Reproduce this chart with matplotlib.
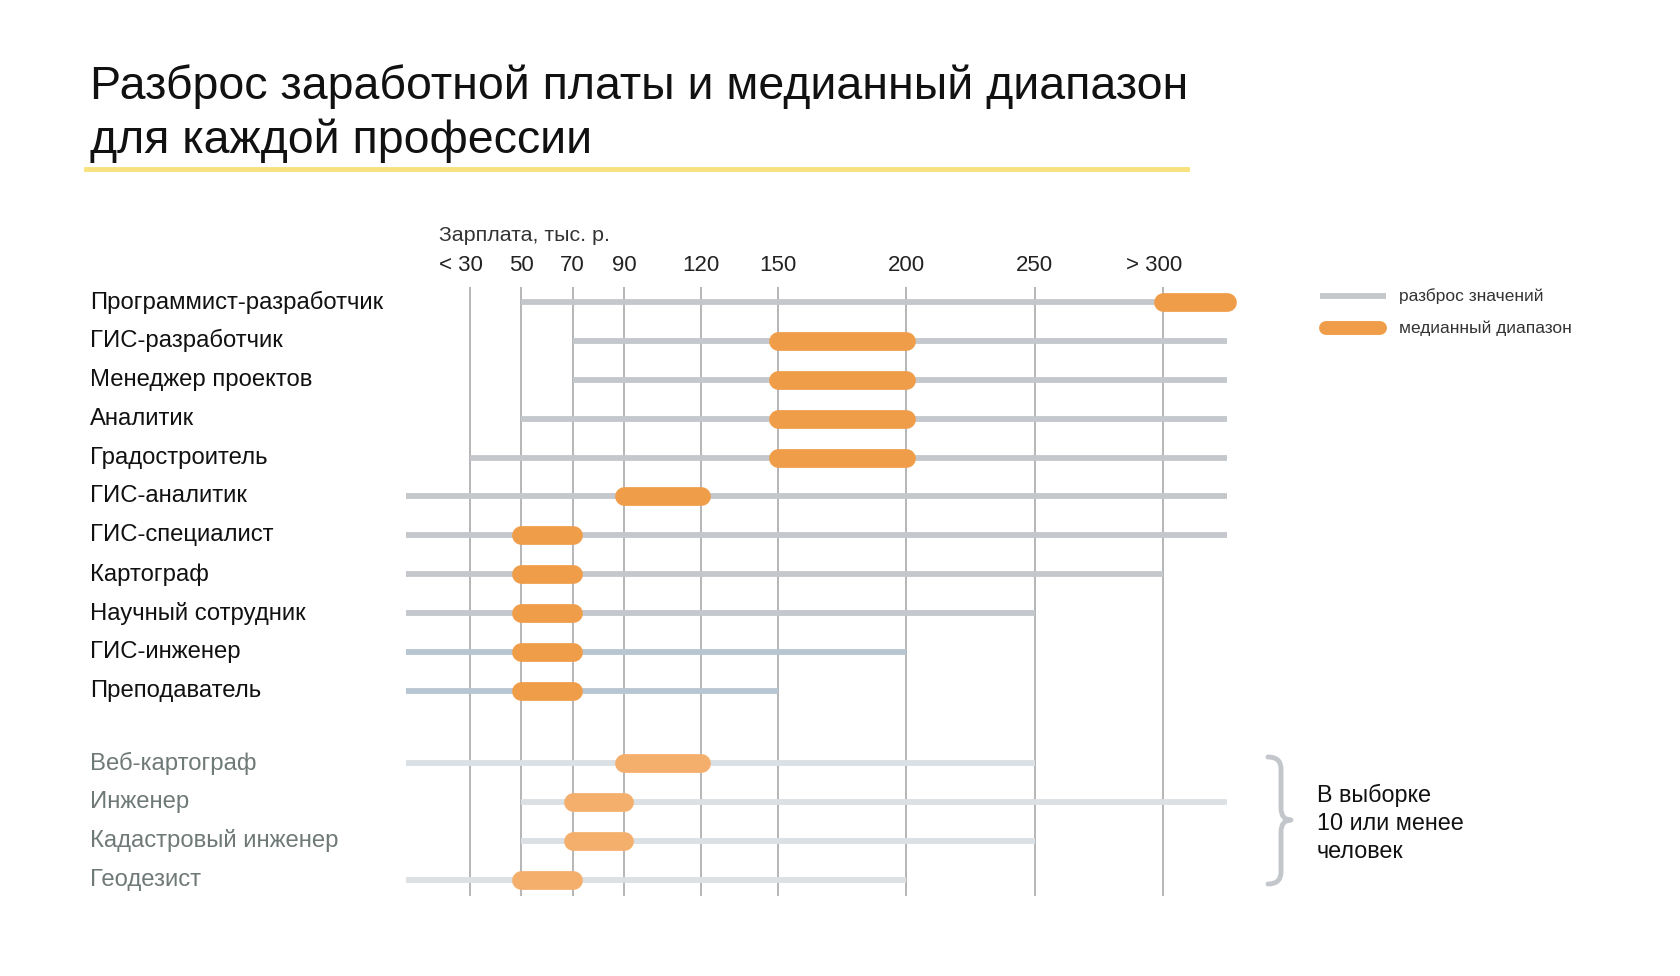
import matplotlib
matplotlib.use('Agg')
import matplotlib.pyplot as plt
from matplotlib.transforms import blended_transform_factory, offset_copy
from matplotlib.path import Path
import matplotlib.patches as mpatches

plt.rcParams['font.family'] = ['Liberation Sans', 'DejaVu Sans']

# --- data ---------------------------------------------------------------
jobs = ['Программист-разработчик', 'ГИС-разработчик', 'Менеджер проектов',
        'Аналитик', 'Градостроитель', 'ГИС-аналитик', 'ГИС-специалист',
        'Картограф', 'Научный сотрудник', 'ГИС-инженер', 'Преподаватель',
        'Веб-картограф', 'Инженер', 'Кадастровый инженер', 'Геодезист']
# 5 stands for "<30", 325 for ">300"
range_lo = [50, 70, 70, 50, 30, 5, 5, 5, 5, 5, 5, 5, 50, 50, 5]
range_hi = [325, 325, 325, 325, 325, 325, 325, 300, 250, 200, 150, 250, 325, 250, 200]
med_lo = [300, 150, 150, 150, 150, 90, 50, 50, 50, 50, 50, 90, 70, 70, 50]
med_hi = [325, 200, 200, 200, 200, 120, 70, 70, 70, 70, 70, 120, 90, 90, 70]
small_sample = [False] * 11 + [True] * 4

tick_vals = [30, 50, 70, 90, 120, 150, 200, 250, 300]
tick_labels = ['< 30', '50', '70', '90', '120', '150', '200', '250', '> 300']

# --- figure -------------------------------------------------------------
W, H = 1680, 976
fig = plt.figure(figsize=(W / 100, H / 100), dpi=100)
ax = fig.add_axes([0, 0, 1, 1])
ax.axis('off')

# pixel mapping: value 30 -> x=470, 300 -> x=1163 ; row 0 -> y=302, step 38.9
px_per = (1163 - 470) / 270
ax.set_xlim(30 - 470 / px_per, 30 + (W - 470) / px_per)
row_h = 38.9
ax.set_ylim((H - 302) / row_h, -302 / row_h)

ypos = [i + (0.85 if s else 0) for i, s in enumerate(small_sample)]

# vertical grid
ax.vlines(tick_vals, (287 - 302) / row_h, (896 - 302) / row_h,
          color='#b5b5b5', lw=1.4, zorder=1)

c_gray = '#c4c8cc'
c_blue = '#b8c6d3'
c_light = '#dbe0e5'
c_or = '#f09d4a'
c_or_l = '#f5af6d'

for i, y in enumerate(ypos):
    if small_sample[i]:
        gc, oc = c_light, c_or_l
    elif jobs[i] in ('ГИС-инженер', 'Преподаватель'):
        gc, oc = c_blue, c_or
    else:
        gc, oc = c_gray, c_or
    ax.plot([range_lo[i], range_hi[i]], [y, y], color=gc, lw=4.2,
            solid_capstyle='butt', zorder=2)
    ax.plot([med_lo[i], med_hi[i]], [y, y], color=oc, lw=13.5,
            solid_capstyle='round', zorder=3)

# row labels
tr = blended_transform_factory(fig.transFigure, ax.transData)
for i, y in enumerate(ypos):
    ax.text(90 / W, y, jobs[i], transform=tr, fontsize=17.2, va='center',
            ha='left', color='#6f7a78' if small_sample[i] else '#111111')

# tick labels (digits centred on the grid line, prefix hangs left)
for v, lab in zip(tick_vals, tick_labels):
    dx = -9 if lab[0] in '<>' else 0
    t = offset_copy(ax.transData, fig=fig, x=dx, y=0, units='dots')
    ax.text(v, (266 - 302) / row_h, lab, transform=t, fontsize=16,
            ha='center', va='center', color='#222222')
ax.text(439 / W, (236 - 302) / row_h, 'Зарплата, тыс. р.', transform=tr,
        fontsize=15.4, ha='left', va='center', color='#333333')

# title
fig.text(90 / W, 1 - 87 / H, 'Разброс заработной платы и медианный диапазон',
         fontsize=33.5, ha='left', va='center', color='#111111')
fig.text(90 / W, 1 - 141 / H, 'для каждой профессии',
         fontsize=33.5, ha='left', va='center', color='#111111')
fig.add_artist(plt.Line2D([86 / W, 1187 / W], [1 - 169 / H, 1 - 169 / H],
                          transform=fig.transFigure, color='#f8e17c', lw=3.5))

# legend
fig.add_artist(plt.Line2D([1320 / W, 1386 / W], [1 - 296 / H] * 2,
                          transform=fig.transFigure, color=c_gray, lw=4.2,
                          solid_capstyle='butt'))
fig.add_artist(plt.Line2D([1326 / W, 1380 / W], [1 - 328 / H] * 2,
                          transform=fig.transFigure, color=c_or, lw=10,
                          solid_capstyle='round'))
fig.text(1399 / W, 1 - 296 / H, 'разброс значений', fontsize=12.5,
         ha='left', va='center', color='#333333')
fig.text(1399 / W, 1 - 328 / H, 'медианный диапазон', fontsize=12.5,
         ha='left', va='center', color='#333333')

# brace for small samples
bx0, bx1, bxm = 1268, 1281, 1291
yt, yb, ym = 757, 884, 820
verts = [(bx0, yt),
         (bx1, yt), (bx1, yt + 12),
         (bx1, ym - 12),
         (bx1, ym), (bxm, ym),
         (bx1, ym), (bx1, ym + 12),
         (bx1, yb - 12),
         (bx1, yb), (bx0, yb)]
codes = [Path.MOVETO,
         Path.CURVE3, Path.CURVE3,
         Path.LINETO,
         Path.CURVE3, Path.CURVE3,
         Path.CURVE3, Path.CURVE3,
         Path.LINETO,
         Path.CURVE3, Path.CURVE3]
verts = [(x / W, 1 - y / H) for x, y in verts]
brace = mpatches.PathPatch(Path(verts, codes), fill=False,
                           edgecolor='#c3c7cb', lw=3.5, capstyle='round',
                           joinstyle='round', transform=fig.transFigure)
fig.add_artist(brace)
for k, line in enumerate(['В выборке', '10 или менее', 'человек']):
    fig.text(1317 / W, 1 - (795 + 28 * k) / H, line, fontsize=16.8,
             ha='left', va='center', color='#111111')

plt.savefig('out.png', dpi=100, facecolor='white')
print('[OK] Saved out.png')
